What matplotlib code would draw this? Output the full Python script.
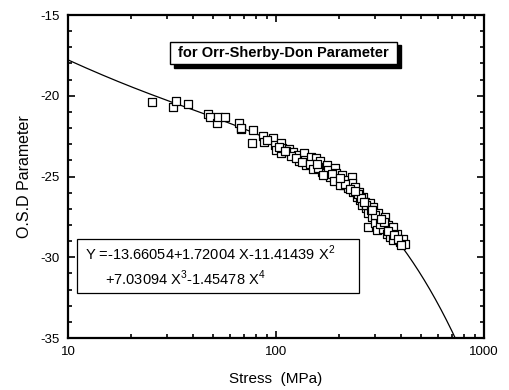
import numpy as np
import matplotlib
matplotlib.use('Agg')
import matplotlib.pyplot as plt
from matplotlib.ticker import LogLocator, NullFormatter, MultipleLocator
from matplotlib.patches import Rectangle

plt.rcParams['font.family'] = ['Liberation Sans', 'DejaVu Sans']
plt.rcParams['mathtext.fontset'] = 'custom'
plt.rcParams['mathtext.rm'] = 'Liberation Sans'

stress = [25.4, 31.9, 33.2, 37.9, 47.3, 48.4, 52.1, 52.7, 56.9, 66.5,
          67.7, 77.6, 76.8, 86.7, 87.7, 96.6, 99.1, 100, 106, 106,
          107, 116, 121, 127, 129, 136, 138, 140, 148, 154,
          156, 162, 166, 172, 175, 178, 182, 192, 195, 199,
          207, 211, 218, 222, 231, 232, 235, 239, 244, 251,
          253, 258, 262, 267, 272, 277, 282, 288, 294, 277,
          299, 305, 310, 322, 328, 334, 340, 347, 353, 360,
          366, 366, 380, 394, 406, 417, 112, 118, 125, 133,
          145, 150, 160, 168, 185, 190, 203, 214, 226, 248,
          256, 270, 285, 300, 315, 330, 345, 370, 385, 400,
          68, 90, 103, 110, 158, 202, 240, 264, 290, 318]
osd = [-20.37, -20.68, -20.31, -20.50, -21.10, -21.30, -21.71, -21.34, -21.30, -21.67,
       -22.07, -22.13, -22.91, -22.48, -22.85, -22.64, -23.06, -23.37, -22.95, -23.57,
       -23.22, -23.31, -23.51, -23.68, -24.03, -23.57, -23.95, -24.30, -23.78, -24.40,
       -23.88, -24.05, -24.71, -24.40, -24.26, -24.61, -25.02, -24.50, -24.81, -25.23,
       -24.92, -25.54, -25.23, -25.74, -25.02, -25.39, -25.95, -25.64, -26.26, -25.95,
       -26.47, -26.78, -26.26, -26.57, -26.98, -27.29, -26.67, -27.50, -26.88, -28.12,
       -27.87, -28.33, -27.29, -27.71, -28.22, -27.50, -28.53, -28.02, -28.74, -28.33,
       -28.12, -28.95, -28.53, -29.05, -28.84, -29.15, -23.45, -23.70, -23.85, -24.10,
       -24.20, -24.55, -24.45, -24.90, -24.85, -25.30, -25.50, -25.45, -25.80, -26.10,
       -26.30, -26.75, -27.10, -27.40, -27.95, -27.80, -28.40, -28.60, -28.90, -29.25,
       -22.00, -22.75, -23.20, -23.40, -24.25, -25.10, -25.90, -26.55, -27.05, -27.60]

# fitted polynomial printed on the chart, Y vs X = log10(stress)
fit_coef = [-13.66054, 1.72004, -11.41439, 7.03094, -1.45478]
fit_stress = np.logspace(1, 3, 300)

fig = plt.figure(figsize=(5.09, 3.9), dpi=100)
ax = fig.add_axes([0.1336, 0.1333, 0.8174, 0.8282])

ax.scatter(stress, osd, marker='s', s=40, facecolors='white', edgecolors='black',
           linewidths=0.9, zorder=3)
X = np.log10(fit_stress)
Y = np.polyval(fit_coef[::-1], X)
ax.plot(fit_stress, Y, color='black', lw=0.9, zorder=2)

ax.set_xscale('log')
ax.set_xlim(10, 1000)
ax.set_ylim(-35, -15)
ax.set_xticks([10, 100, 1000])
ax.set_xticklabels(['10', '100', '1000'])
ax.xaxis.set_minor_locator(LogLocator(base=10, subs=np.arange(2, 10)))
ax.xaxis.set_minor_formatter(NullFormatter())
ax.set_yticks([-35, -30, -25, -20, -15])
ax.set_yticklabels(['-35', '-30', '-25', '-20', '-15'])
ax.yaxis.set_minor_locator(MultipleLocator(1))

ax.tick_params(which='both', direction='in', top=True, right=True, labelsize=9.5, width=1.2)
ax.tick_params(which='major', length=5, pad=6)
ax.tick_params(which='minor', length=3)
for sp in ax.spines.values():
    sp.set_linewidth(1.6)

ax.set_xlabel('Stress  (MPa)', fontsize=11, labelpad=10)
ax.set_ylabel('O.S.D Parameter', fontsize=11.5, labelpad=6)

# title box with shadow
ax.add_patch(Rectangle((0.254, 0.837), 0.546, 0.07, transform=ax.transAxes,
                       facecolor='black', edgecolor='black', zorder=4))
ax.add_patch(Rectangle((0.245, 0.848), 0.546, 0.07, transform=ax.transAxes,
                       facecolor='white', edgecolor='black', lw=1.0, zorder=5))
ax.text(0.518, 0.883, 'for Orr-Sherby-Don Parameter', transform=ax.transAxes,
        ha='center', va='center', fontsize=10.5, fontweight='bold', zorder=6)

# equation box
ax.add_patch(Rectangle((0.022, 0.139), 0.677, 0.168, transform=ax.transAxes,
                       facecolor='white', edgecolor='black', lw=0.9, zorder=5))
ax.text(0.042, 0.262, r'Y =-13.66054+1.72004 X-11.41439 X$^2$', transform=ax.transAxes,
        ha='left', va='center', fontsize=10.5, zorder=6)
ax.text(0.088, 0.186, r'+7.03094 X$^3$-1.45478 X$^4$', transform=ax.transAxes,
        ha='left', va='center', fontsize=10.5, zorder=6)

fig.savefig('out.png', dpi=100)
